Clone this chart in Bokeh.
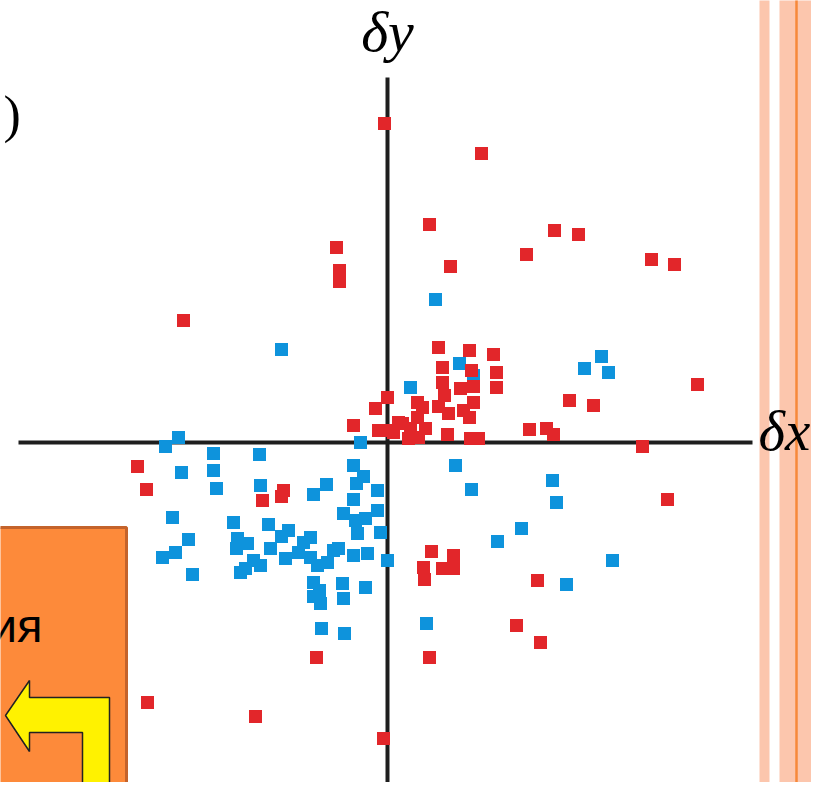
from bokeh.plotting import figure
from bokeh.models import Range1d
from bokeh.core.properties import value
from bokeh.embed import file_html
from bokeh.resources import INLINE

# ---- data (δx, δy) ----
red_dx = [-3, 94, 42, 167, 191, -51, 139, -48, -48, 264, 287, 63, -204, 51, 82, 106, 55, 55, 84,
          109, 109, 310, 0, 57, 73, 86, 86, 30, 35, 51, 61, 76, 82, 182, 206, -12, -34, -9, 11, 15,
          30, 0, 6, 23, 38, 21, 31, 60, 83, 91, 142, 159, 166, 255, 280, -250, -241, -125, -104,
          -106, 44, 66, 36, 55, 66, 37, 150, 129, 153, 42, -71, -240, -132, -4]
red_dy = [319, 289, 218, 212, 208, 195, 188, 172, 161, 183, 178, 176, 122, 95, 92, 88, 75, 60, 72,
          70, 55, 58, 45, 47, 54, 56, 40, 40, 35, 36, 29, 32, 25, 42, 37, 34, 17, 12, 20, 19,
          25, 12, 10, 14, 14, 4, 5, 8, 4, 4, 13, 14, 8, -4, -57, -24, -47, -58, -48,
          -54, -109, -113, -125, -126, -126, -137, -138, -183, -200, -215, -215, -260, -274, -296]

blue_dx = [48, -106, 72, 86, 23, 214, 197, 221, -209, -222, -174, -128, -27, -206, -174, -34, -24,
           68, 84, 165, 169, 134, 110, 225, 179, 39, -171, -127, -61, -74, -31, -10, -34, -215,
           -154, -119, -99, -106, -44, -32, -22, -10, -30, -7, -199, -150, -140, -151, -117, -212,
           -225, -77, -84, -89, -77, -70, -60, -54, -49, -34, -20, 0, -102, -134, -127, -142, -147,
           -195, -74, -68, -74, -67, -45, -22, -44, -66, -43]
blue_dy = [143, 93, 79, 67, 55, 86, 74, 70, 5, -4, -11, -12, 0, -30, -28, -23, -34,
           -23, -47, -38, -60, -86, -99, -118, -142, -181, -46, -43, -42, -52, -41, -48, -57, -75,
           -80, -82, -88, -94, -71, -78, -76, -68, -91, -90, -97, -96, -101, -106, -106, -110,
           -115, -95, -100, -110, -115, -123, -120, -108, -106, -113, -111, -118, -116, -118, -123, -126, -130,
           -132, -140, -148, -154, -161, -141, -145, -156, -186, -191]

x_label = "δx"
y_label = "δy"
side_text = "ия"
paren_text = ")"

# ---- layout (picture pixels -> data units; origin where the axes cross) ----
OX, OY = 387, 442
W, H = 811, 782


def X(px):
    return px - OX


def Y(py):
    return OY - py


def TY(py, size):
    # baseline correction for text placement
    return Y(py - 0.37 * size)


p = figure(width=W, height=H, output_backend="svg", toolbar_location=None,
           x_range=Range1d(X(0), X(W)), y_range=Range1d(Y(H), Y(0)),
           x_axis_location=None, y_axis_location=None, min_border=0,
           background_fill_color="white", border_fill_color="white")
p.outline_line_color = None
p.grid.visible = False

# right-hand decorative stripes
p.quad(left=[X(759), X(779)], right=[X(769), X(830)], top=Y(-5), bottom=Y(805),
       fill_color="#fcc6ad", line_color=None)
p.segment(x0=X(796), y0=Y(-5), x1=X(796), y1=Y(805), line_color="#f7883a", line_width=2.5)

# orange box at the lower left
p.quad(left=X(-10), right=X(126), top=Y(527), bottom=Y(805),
       fill_color="#fd8a3a", line_color="#c4632b", line_width=3)
p.text(x=[X(42)], y=[TY(642, 47)], text=[side_text], text_font=value("Liberation Sans"),
       text_font_size="47px", text_align="right", text_baseline="alphabetic", text_color="black")

# yellow bent arrow
ax = [5, 29, 29, 109, 109, 82, 82, 29, 29]
ay = [715, 680, 697, 697, 805, 805, 732, 732, 751]
p.patch(x=[X(v) for v in ax], y=[Y(v) for v in ay], fill_color="#fff200",
        line_color="#222222", line_width=1.5)

# axes
p.segment(x0=X(387), y0=Y(77), x1=X(387), y1=Y(805), line_color="#1e1e1e", line_width=4)
p.segment(x0=X(18), y0=Y(442), x1=X(752), y1=Y(442), line_color="#1e1e1e", line_width=4)

# data
p.scatter(blue_dx, blue_dy, marker="square", size=13, fill_color="#0e93dc", line_color=None)
p.scatter(red_dx, red_dy, marker="square", size=13, fill_color="#e2262a", line_color=None)

# labels
p.text(x=[X(387)], y=[TY(52, 58)], text=[y_label], text_font=value("Liberation Serif"),
       text_font_style="italic", text_font_size="58px", text_align="center",
       text_baseline="alphabetic", text_color="black")
p.text(x=[X(758)], y=[TY(451, 57)], text=[x_label], text_font=value("Liberation Serif"),
       text_font_style="italic", text_font_size="57px", text_align="left",
       text_baseline="alphabetic", text_color="black")
p.text(x=[X(3)], y=[TY(133, 52)], text=[paren_text], text_font=value("Liberation Serif"),
       text_font_size="52px", text_align="left", text_baseline="alphabetic", text_color="black")

open("out.html", "w").write(file_html(p, INLINE))
